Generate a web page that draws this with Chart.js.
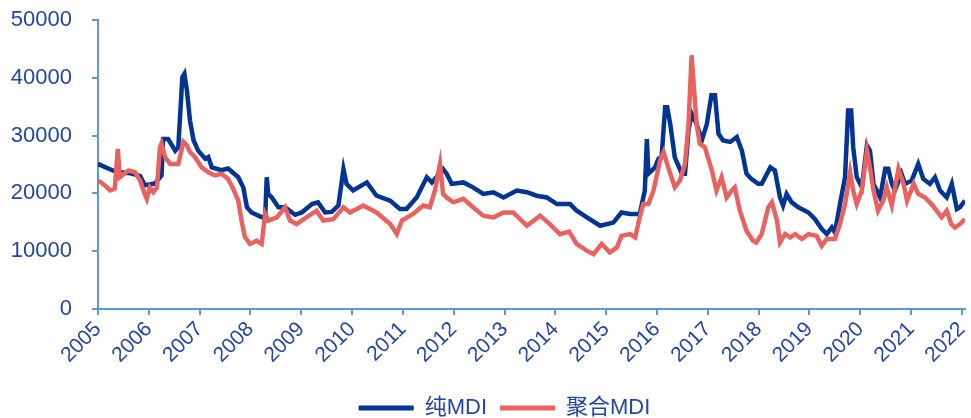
<!DOCTYPE html>
<html>
<head>
<meta charset="utf-8">
<script src="https://cdn.jsdelivr.net/npm/chart.js@4.4.1/dist/chart.umd.min.js"></script>
<style>
  html, body { margin: 0; padding: 0; background: #fff; }
  #wrap { width: 971px; height: 418px; }
</style>
</head>
<body>
<div id="wrap"><canvas id="mdiChart"></canvas></div>
<script>
// year ticks on the x axis
const yearTicks = [2005, 2006, 2007, 2008, 2009, 2010, 2011, 2012, 2013, 2014,
    2015, 2016, 2017, 2018, 2019, 2020, 2021, 2022];

// 纯MDI (decimal year, price)
const pureDates = [2005.00, 2005.20, 2005.37, 2005.63, 2005.83, 2005.92, 2006.12, 2006.25, 2006.28, 2006.38,
    2006.52, 2006.58, 2006.66, 2006.70, 2006.75, 2006.81, 2006.88, 2006.97, 2007.11, 2007.17,
    2007.24, 2007.43, 2007.56, 2007.76, 2007.86, 2007.93, 2008.02, 2008.22, 2008.29, 2008.32,
    2008.35, 2008.42, 2008.55, 2008.68, 2008.88, 2009.01, 2009.21, 2009.33, 2009.47, 2009.60,
    2009.73, 2009.83, 2009.89, 2010.02, 2010.29, 2010.48, 2010.75, 2010.94, 2011.07, 2011.27,
    2011.47, 2011.57, 2011.66, 2011.79, 2011.86, 2011.96, 2012.19, 2012.38, 2012.58, 2012.78,
    2012.98, 2013.24, 2013.44, 2013.63, 2013.83, 2014.03, 2014.29, 2014.42, 2014.62, 2014.88,
    2015.14, 2015.30, 2015.47, 2015.66, 2015.76, 2015.80, 2015.83, 2015.96, 2016.03, 2016.09,
    2016.16, 2016.20, 2016.26, 2016.35, 2016.49, 2016.55, 2016.62, 2016.68, 2016.78, 2016.88,
    2016.98, 2017.07, 2017.14, 2017.21, 2017.30, 2017.44, 2017.57, 2017.67, 2017.76, 2017.86,
    2017.99, 2018.06, 2018.23, 2018.32, 2018.42, 2018.48, 2018.55, 2018.65, 2018.78, 2018.98,
    2019.11, 2019.24, 2019.34, 2019.44, 2019.50, 2019.60, 2019.70, 2019.76, 2019.82, 2019.86,
    2019.93, 2020.03, 2020.13, 2020.19, 2020.26, 2020.39, 2020.49, 2020.55, 2020.62, 2020.68,
    2020.81, 2020.88, 2021.01, 2021.14, 2021.24, 2021.37, 2021.47, 2021.57, 2021.70, 2021.80,
    2021.90, 2021.96, 2022.06];
const pureValues = [25100, 24300, 23700, 23500, 23000, 21400, 21700, 23100, 29400, 29400,
    27400, 28000, 40100, 40700, 37800, 32600, 29200, 27400, 26000, 26300,
    24500, 24000, 24300, 22800, 21000, 17600, 16700, 15900, 16000, 22800,
    19900, 19300, 17600, 17600, 16300, 16700, 18150, 18450, 16700, 16800,
    17900, 24200, 21650, 20500, 21900, 19600, 18750, 17300, 17300, 19300,
    22800, 21900, 22800, 24200, 23400, 21650, 21900, 21050, 19900, 20200,
    19300, 20500, 20200, 19600, 19300, 18150, 18150, 17000, 15850, 14400,
    14950, 16700, 16450, 16450, 20500, 29400, 23400, 24500, 26000, 26250,
    34900, 34900, 32000, 26250, 23400, 23400, 30900, 33800, 32000, 29150,
    32000, 37000, 37000, 30300, 29150, 28900, 29750, 27400, 23400, 22500,
    21650, 21650, 24500, 23950, 19300, 17900, 19900, 18450, 17600, 16700,
    15550, 13850, 12950, 14100, 13250, 18150, 22800, 34350, 34350, 28000,
    22800, 21050, 28300, 27400, 21650, 19300, 24250, 24250, 21650, 20500,
    23400, 21650, 22200, 25100, 22500, 21650, 22800, 20500, 19300, 21650,
    17300, 17600, 18750];

// 聚合MDI (decimal year, price)
const polyDates = [2005.01, 2005.14, 2005.24, 2005.33, 2005.39, 2005.43, 2005.60, 2005.73, 2005.83, 2005.92,
    2005.96, 2006.02, 2006.09, 2006.16, 2006.22, 2006.25, 2006.32, 2006.42, 2006.58, 2006.68,
    2006.75, 2006.81, 2006.91, 2007.04, 2007.17, 2007.30, 2007.43, 2007.56, 2007.66, 2007.76,
    2007.83, 2007.89, 2007.99, 2008.12, 2008.22, 2008.29, 2008.35, 2008.52, 2008.68, 2008.78,
    2008.91, 2009.10, 2009.30, 2009.43, 2009.63, 2009.83, 2009.96, 2010.22, 2010.48, 2010.75,
    2010.88, 2010.98, 2011.20, 2011.40, 2011.53, 2011.63, 2011.73, 2011.79, 2011.86, 2011.99,
    2012.19, 2012.38, 2012.58, 2012.78, 2012.98, 2013.17, 2013.44, 2013.70, 2013.89, 2014.09,
    2014.27, 2014.42, 2014.62, 2014.75, 2014.91, 2015.07, 2015.21, 2015.30, 2015.47, 2015.57,
    2015.66, 2015.73, 2015.83, 2015.93, 2016.06, 2016.13, 2016.22, 2016.35, 2016.45, 2016.55,
    2016.62, 2016.68, 2016.73, 2016.78, 2016.84, 2016.94, 2017.08, 2017.17, 2017.27, 2017.37,
    2017.47, 2017.53, 2017.63, 2017.76, 2017.89, 2017.95, 2018.06, 2018.19, 2018.26, 2018.36,
    2018.42, 2018.52, 2018.62, 2018.72, 2018.85, 2018.98, 2019.14, 2019.24, 2019.34, 2019.50,
    2019.60, 2019.70, 2019.80, 2019.86, 2019.93, 2020.03, 2020.13, 2020.19, 2020.26, 2020.35,
    2020.45, 2020.52, 2020.62, 2020.75, 2020.85, 2020.92, 2021.05, 2021.14, 2021.27, 2021.40,
    2021.50, 2021.60, 2021.70, 2021.79, 2021.86, 2021.96, 2022.06];
const polyValues = [22200, 21350, 20500, 20800, 27700, 22800, 23950, 23650, 22200, 19900,
    19050, 21050, 20200, 21050, 28000, 28600, 26250, 25100, 25100, 28900,
    28300, 27150, 26250, 24500, 23650, 23100, 23400, 22500, 20800, 18750,
    15000, 12500, 11250, 11800, 11250, 16450, 15300, 15850, 17600, 15300,
    14700, 15850, 17000, 15300, 15550, 17600, 16700, 17900, 16700, 14700,
    12950, 15300, 16450, 17900, 17600, 20500, 25100, 19900, 19300, 18450,
    19050, 17600, 16150, 15850, 16700, 16700, 14400, 16150, 14700, 12950,
    13400, 11250, 10050, 9500, 11250, 9800, 10650, 12650, 12950, 12400,
    15850, 18150, 18150, 20500, 25700, 27150, 24500, 21050, 22200, 25100,
    32000, 43900, 37800, 32000, 28600, 28000, 23950, 20500, 22800, 19300,
    20500, 21050, 17000, 13550, 11800, 11500, 12950, 17600, 18450, 15300,
    11500, 12950, 12400, 12950, 12100, 12950, 12650, 10950, 12100, 12100,
    14700, 18150, 23650, 20500, 18150, 20500, 27400, 24500, 20500, 17000,
    18750, 21050, 17900, 24250, 21650, 18750, 21650, 19900, 19300, 18150,
    17000, 15850, 17000, 14700, 14100, 14700, 15550];

const textBlue = '#2446a0';
const axisBlue = '#5b9bd5';
const fontFamily = '"Liberation Sans", Arial, "Noto Sans CJK SC", sans-serif';

// the legend in the picture sits a little right of centre
const shiftLegend = {
    id: 'shiftLegend',
    afterLayout(chart) {
        chart.legend.left += 22;
        chart.legend.right += 22;
    }
};

const ctx = document.getElementById('mdiChart');
new Chart(ctx, {
    type: 'line',
    data: {
        datasets: [
        {
            label: '纯MDI',
            data: pureDates.map((d, i) => ({x: d, y: pureValues[i]})),
            borderColor: '#023593',
            backgroundColor: '#023593',
            borderWidth: 4.5,
            pointRadius: 0,
            tension: 0,
            order: 2
        },
        {
            label: '聚合MDI',
            data: polyDates.map((d, i) => ({x: d, y: polyValues[i]})),
            borderColor: '#e8625f',
            backgroundColor: '#e8625f',
            borderWidth: 4.5,
            pointRadius: 0,
            tension: 0,
            order: 1
        }
        ]
    },
    options: {
        responsive: true,
        maintainAspectRatio: false,
        animation: false,
        layout: {
            padding: {top: 20, right: 6, left: 0, bottom: -11}
        },
        scales: {
            x: {
                type: 'linear',
                min: 2005,
                max: 2022.06,
                afterBuildTicks: scale => {
                    scale.ticks = yearTicks.map(v => ({value: v}));
                },
                afterFit: scale => {
                    scale.height = 75;
                    scale.paddingLeft = 0;
                    scale.paddingRight = 0;
                },
                border: {color: axisBlue, width: 2},
                grid: {display: true, drawOnChartArea: false, drawTicks: true, tickLength: 6, color: axisBlue, lineWidth: 2},
                ticks: {
                    autoSkip: false,
                    maxRotation: 45,
                    minRotation: 45,
                    color: textBlue,
                    font: {family: fontFamily, size: 21},
                    padding: 2,
                    callback: v => String(v)
                }
            },
            y: {
                min: 0,
                max: 50000,
                afterFit: scale => {
                    scale.width = 98;
                    scale.paddingTop = 0;
                    scale.paddingBottom = 0;
                },
                border: {color: axisBlue, width: 2},
                grid: {display: true, drawOnChartArea: false, drawTicks: true, tickLength: 6, color: axisBlue, lineWidth: 2},
                ticks: {
                    stepSize: 10000,
                    color: textBlue,
                    font: {family: fontFamily, size: 22},
                    padding: 20,
                    callback: v => String(v)
                }
            }
        },
        plugins: {
            tooltip: {enabled: false},
            legend: {
                position: 'bottom',
                labels: {
                    color: textBlue,
                    font: {family: fontFamily, size: 22, lineHeight: 1.0},
                    boxWidth: 55,
                    boxHeight: 5,
                    padding: 13,
                    generateLabels: chart => {
                        const items = Chart.defaults.plugins.legend.labels.generateLabels(chart);
                        items.forEach(item => { item.lineWidth = 0; });
                        items.sort((a, b) => a.datasetIndex - b.datasetIndex);
                        return items;
                    }
                }
            }
        }
    },
    plugins: [shiftLegend]
});
</script>
</body>
</html>
